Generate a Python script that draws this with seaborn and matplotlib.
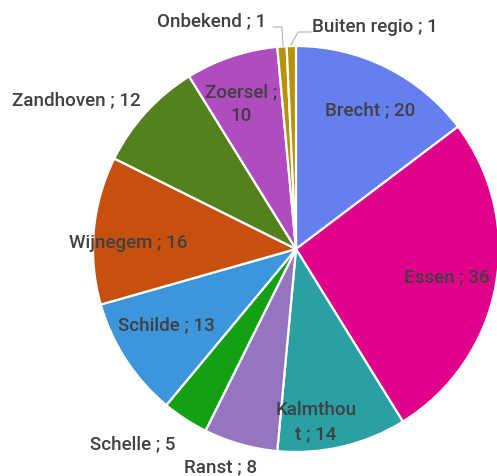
import matplotlib
matplotlib.use("Agg")
import matplotlib.pyplot as plt
import seaborn as sns

sns.set_theme(style="white")
plt.rcParams['font.family'] = ['Roboto', 'DejaVu Sans']

# data
gemeenten = ["Brecht", "Essen", "Kalmthout", "Ranst", "Schelle", "Schilde",
             "Wijnegem", "Zandhoven", "Zoersel", "Onbekend", "Buiten regio"]
aantallen = [20, 36, 14, 8, 5, 13, 16, 12, 10, 1, 1]
kleuren = ["#6580ee", "#e0008a", "#2aa0a4", "#9575bf", "#14a014", "#3c96dc",
           "#c8500f", "#55801e", "#b04cc0", "#b8900a", "#b8900a"]

# label text and where Excel put it (pixel coords)
label_tekst = ["Brecht ; 20", "Essen ; 36", "Kalmthou\nt ; 14", "Ranst ; 8",
               "Schelle ; 5", "Schilde ; 13", "Wijnegem ; 16", "Zandhoven ; 12",
               "Zoersel ;\n10", "Onbekend ; 1", "Buiten regio ; 1"]
label_pos = [(370, 110), (447, 277), (316, 422), (220, 467), (133, 444),
             (166, 325), (128, 243), (76, 100), (241, 104), (212, 21), (375, 27)]

W, H = 497, 477
fig = plt.figure(figsize=(W / 100, H / 100), dpi=100)
ax = fig.add_axes([0, 0, 1, 1])

cx, cy, r = 296, H - 250, 203
ax.pie(aantallen, colors=kleuren, startangle=90, counterclock=False,
       center=(cx, cy), radius=r, frame=True,
       wedgeprops={"edgecolor": "white", "linewidth": 1.6})
ax.set_xlim(0, W)
ax.set_ylim(0, H)
ax.set_aspect("equal")
ax.axis("off")

for txt, (x, y) in zip(label_tekst, label_pos):
    ax.text(x, H - y, txt, ha="center", va="center", fontsize=13.5,
            fontweight="medium", color="#404040", linespacing=1.45)

# leader lines for the small slices
ax.plot([273, 282, 283], [H - 28, H - 28, H - 47], color="#b0b0b0", lw=0.8)
ax.plot([312, 298, 291], [H - 33, H - 33, H - 46], color="#b0b0b0", lw=0.8)

fig.savefig("out.png", dpi=100)
